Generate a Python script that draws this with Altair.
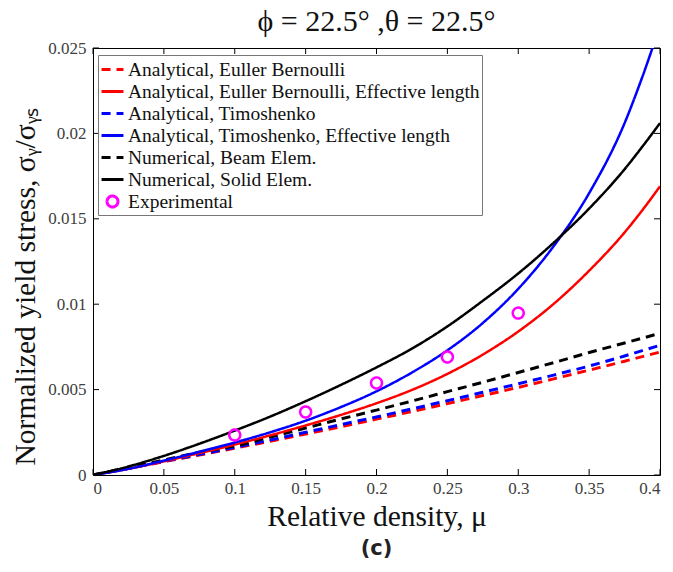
import altair as alt
import pandas as pd

# ---------------- data ----------------
x_vals = [0.0, 0.025, 0.05, 0.075, 0.1, 0.125, 0.15, 0.175, 0.2, 0.225, 0.25, 0.275, 0.3, 0.325, 0.35, 0.375, 0.3875, 0.4]

eb_dash = [0, 0.00039, 0.00078, 0.00117, 0.00157, 0.00198, 0.0024, 0.00283, 0.00327, 0.00372, 0.00418, 0.00465, 0.00513, 0.00563, 0.00614, 0.00666, 0.00693, 0.0072]
eb_eff = [0, 0.00036, 0.0008, 0.00128, 0.00178, 0.00232, 0.0029, 0.00352, 0.0042, 0.00498, 0.00592, 0.00705, 0.0084, 0.01002, 0.01196, 0.0142, 0.0155, 0.0169]
timo_dash = [0, 0.0004, 0.0008, 0.0012, 0.00162, 0.00205, 0.0025, 0.00295, 0.0034, 0.00387, 0.00435, 0.00484, 0.00534, 0.00585, 0.00638, 0.00697, 0.00728, 0.0076]
timo_eff = [0, 0.00036, 0.00084, 0.00136, 0.0019, 0.0025, 0.00318, 0.00398, 0.0049, 0.006, 0.0073, 0.0089, 0.0109, 0.0134, 0.0165, 0.0206, 0.0233, 0.0263]
beam_dash = [0, 0.00043, 0.00088, 0.00133, 0.0017, 0.00222, 0.00275, 0.00328, 0.0038, 0.00433, 0.00488, 0.00543, 0.006, 0.00658, 0.00717, 0.00773, 0.00801, 0.0083]
solid_elem = [0, 0.0005, 0.00112, 0.00183, 0.0026, 0.00342, 0.00432, 0.00528, 0.0063, 0.0074, 0.0087, 0.0102, 0.0118, 0.0136, 0.0156, 0.0179, 0.01922, 0.0206]

exp_x = [0.1, 0.15, 0.2, 0.25, 0.3]
exp_y = [0.00234, 0.00369, 0.00539, 0.00691, 0.00948]

names = [
    "Analytical, Euller Bernoulli",
    "Analytical, Euller Bernoulli, Effective length",
    "Analytical, Timoshenko",
    "Analytical, Timoshenko, Effective length",
    "Numerical, Beam Elem.",
    "Numerical, Solid Elem.",
    "Experimental",
]
colors = ["#ff0000", "#ff0000", "#0000ff", "#0000ff", "#000000", "#000000", "#ff00ff"]
dashes = [[9, 6], [1, 0], [9, 6], [1, 0], [9, 6], [1, 0], [1, 0]]
circle_path = "M0.5,0A0.5,0.5 0 1,1 -0.5,0A0.5,0.5 0 1,1 0.5,0Z"
shapes = ["stroke"] * 6 + [circle_path]

x_ticks = [0, 0.05, 0.1, 0.15, 0.2, 0.25, 0.3, 0.35, 0.4]
y_ticks = [0, 0.005, 0.01, 0.015, 0.02, 0.025]

series_vals = [eb_dash, eb_eff, timo_dash, timo_eff, beam_dash, solid_elem]
rows = []
for name, vals in zip(names[:6], series_vals):
    for xv, yv in zip(x_vals, vals):
        rows.append({"series": name, "x": xv, "y": yv})
lines_df = pd.DataFrame(rows)
exp_df = pd.DataFrame({"series": names[6], "x": exp_x, "y": exp_y})

W, H = 567, 427
SERIF = "Liberation Serif"

xscale = alt.Scale(domain=[0, 0.4], nice=False)
yscale = alt.Scale(domain=[0, 0.025], nice=False)

leg = dict(orient="none", legendX=5, legendY=7, labelFont=SERIF, labelFontSize=19.5)
color_enc = alt.Color("series:N", scale=alt.Scale(domain=names, range=colors), title=None,
                      legend=alt.Legend(**leg))
dash_enc = alt.StrokeDash("series:N", scale=alt.Scale(domain=names, range=dashes), title=None,
                          legend=alt.Legend(**leg))
shape_enc = alt.Shape("series:N", scale=alt.Scale(domain=names, range=shapes), title=None,
                      legend=alt.Legend(**leg))

x_enc = alt.X("x:Q", scale=xscale,
              axis=alt.Axis(values=x_ticks, labelExpr="'' + datum.value", ticks=False, domain=False,
                            grid=False, title="Relative density, μ", labelPadding=5, titlePadding=6,
                            labelFont=SERIF, labelFontSize=17, titleFont=SERIF, titleFontSize=29.5))
y_enc = alt.Y("y:Q", scale=yscale,
              axis=alt.Axis(values=y_ticks, labelExpr="'' + datum.value", ticks=False, domain=False,
                            grid=False, title="Normalized yield stress, σᵧ/σᵧₛ", labelPadding=7, titlePadding=7,
                            titleY=238, titleAlign="center",
                            labelFont=SERIF, labelFontSize=17, titleFont=SERIF, titleFontSize=29.5))

dashed_names = [names[0], names[2], names[4]]
lines_dashed = alt.Chart(lines_df).transform_filter(
    alt.FieldOneOfPredicate(field="series", oneOf=dashed_names)
).mark_line(clip=True, strokeWidth=3, interpolate="monotone").encode(
    x=x_enc, y=y_enc, color=color_enc, strokeDash=dash_enc, order="x:Q"
)
lines_solid = alt.Chart(lines_df).transform_filter(
    alt.FieldOneOfPredicate(field="series", oneOf=[names[1], names[3], names[5]])
).mark_line(clip=True, strokeWidth=2.5, interpolate="monotone").encode(
    x=x_enc, y=y_enc, color=color_enc, strokeDash=dash_enc, order="x:Q"
)
points = alt.Chart(exp_df).mark_point(filled=False, strokeWidth=2.5, size=480, opacity=1).encode(
    x=x_enc, y=y_enc, color=color_enc, strokeDash=dash_enc, shape=shape_enc
)

xt = pd.DataFrame({"v": x_ticks})
yt = pd.DataFrame({"v": y_ticks})
tick_b = alt.Chart(xt).mark_rule(color="black", strokeWidth=1).encode(
    x=alt.X("v:Q", scale=xscale), y=alt.value(H), y2=alt.value(H - 6))
tick_t = alt.Chart(xt).mark_rule(color="black", strokeWidth=1).encode(
    x=alt.X("v:Q", scale=xscale), y=alt.value(0), y2=alt.value(6))
tick_l = alt.Chart(yt).mark_rule(color="black", strokeWidth=1).encode(
    y=alt.Y("v:Q", scale=yscale), x=alt.value(0), x2=alt.value(6))
tick_r = alt.Chart(yt).mark_rule(color="black", strokeWidth=1).encode(
    y=alt.Y("v:Q", scale=yscale), x=alt.value(W), x2=alt.value(W - 6))

label_c = alt.Chart(pd.DataFrame({"t": ["(c)"]})).mark_text(
    font="DejaVu Sans", fontWeight="bold", fontSize=21, color="#222222", align="center", baseline="middle"
).encode(x=alt.value(W / 2), y=alt.value(501), text="t:N")

chart = alt.layer(
    lines_dashed, lines_solid, points, tick_b, tick_t, tick_l, tick_r, label_c
).properties(
    width=W, height=H,
    title=alt.Title("ϕ = 22.5° ,θ = 22.5°", font=SERIF, fontSize=30, fontWeight="normal",
                    anchor="middle", frame="group", offset=2, color="#111111"),
    autosize=alt.AutoSizeParams(type="none"),
    padding={"left": 93, "top": 48, "right": 13, "bottom": 97},
).configure_view(stroke="black", strokeWidth=1).configure_axis(
    labelFont=SERIF, labelFontSize=17, labelColor="#404040",
    titleFont=SERIF, titleFontWeight="normal", titleColor="#111111"
).configure_title(font=SERIF).configure_legend(
    labelFont=SERIF, labelColor="#111111", symbolSize=480, symbolStrokeWidth=3,
    strokeColor="#777777", fillColor="white", padding=2, rowPadding=0, labelOffset=3,
    symbolFillColor="transparent", labelLimit=0
)

chart.save("out.html", embed_options={"renderer": "svg", "actions": False})
